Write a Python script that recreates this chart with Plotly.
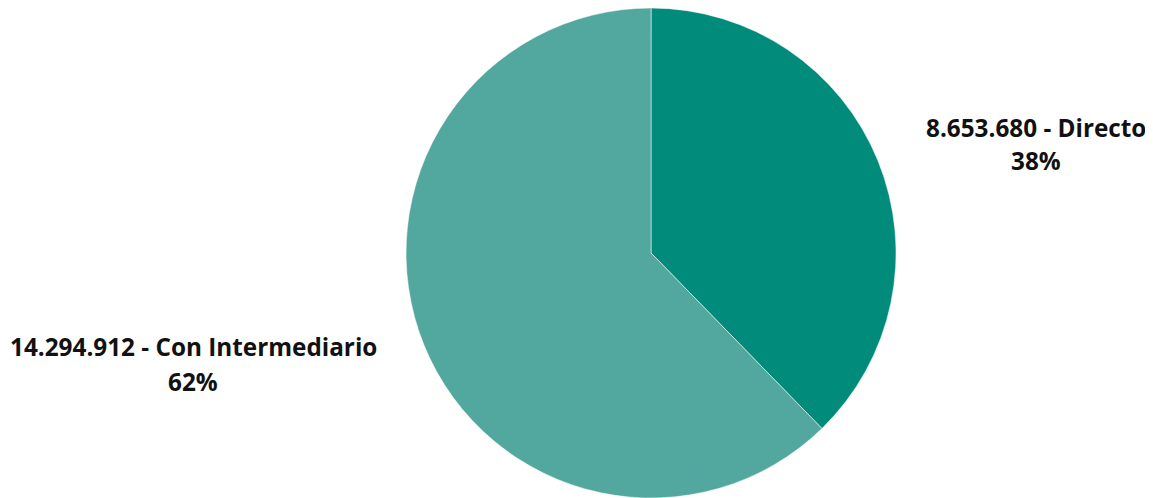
import plotly.graph_objects as go

labels = ["Directo", "Con Intermediario"]
values = [8653680, 14294912]
colors = ["#008B7A", "#52A89E"]

total = sum(values)

def fmt(v):
    return f"{v:,}".replace(",", ".")

# page body has an 8px default margin; size the figure to fit the window
W, H = 1145, 490
OFF = 8

fig = go.Figure(go.Pie(
    labels=labels,
    values=values,
    sort=False,
    direction="clockwise",
    rotation=0,
    marker=dict(colors=colors, line=dict(color="white", width=0.5)),
    textinfo="none",
    hoverinfo="label+value+percent",
    showlegend=False,
    domain=dict(x=[0.2616, 0.8616], y=[0, 1]),
))

# (center x, line1 center y, line2 center y) in window pixels
label_pos = {"Directo": (1036, 127, 161), "Con Intermediario": (193, 346, 381)}
font = dict(family="Open Sans", size=24.3, color="#111111", weight="bold")
for lab, val in zip(labels, values):
    px, y1, y2 = label_pos[lab]
    pct = round(val / total * 100)
    for txt, py in ((f"{fmt(val)} - {lab}", y1), (f"{pct}%", y2)):
        fig.add_annotation(
            text=txt,
            xref="paper", yref="paper",
            x=(px - OFF) / W, y=(H - (py - OFF)) / H,
            xanchor="center", yanchor="middle",
            showarrow=False, align="center",
            font=font,
        )

fig.update_layout(
    width=W, height=H,
    margin=dict(l=0, r=0, t=0, b=0),
    paper_bgcolor="white", plot_bgcolor="white",
)

fig.write_html("out.html")
